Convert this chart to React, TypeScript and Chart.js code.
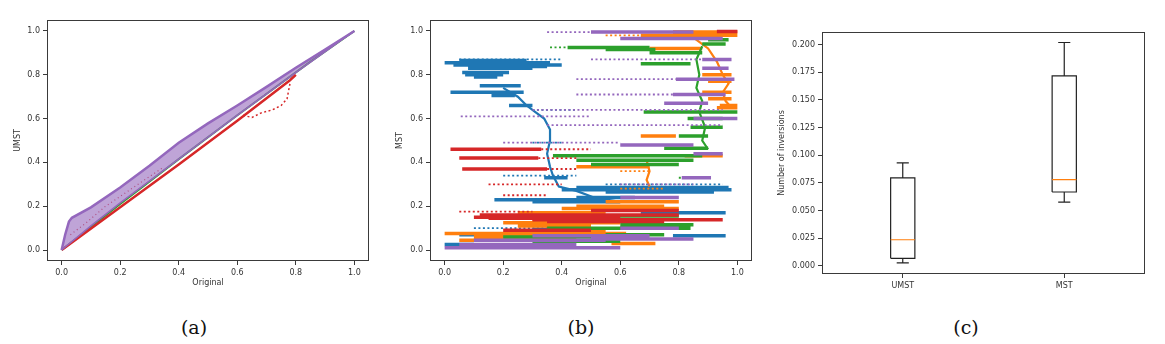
import React, { useEffect, useRef } from 'react';
import { Chart, registerables } from 'chart.js';

Chart.register(...registerables);

type XY = [number, number];
type Streak = [number, number, number]; // [xStart, xEnd, y]

// ---------- shared tick values ----------
const unitTicks = [0, 0.2, 0.4, 0.6, 0.8, 1.0];
const inversionTicks = [0, 0.025, 0.05, 0.075, 0.1, 0.125, 0.15, 0.175, 0.2];

// ---------- (a) UMST vs Original ----------
const umstPurpleUpper: XY[] = [
  [0, 0], [0.012, 0.07], [0.025, 0.13], [0.035, 0.147], [0.1, 0.195], [0.2, 0.285],
  [0.3, 0.385], [0.4, 0.49], [0.5, 0.578], [0.6, 0.66], [0.7, 0.745], [0.8, 0.832],
  [0.9, 0.915], [1, 1],
];
const umstPurpleLower: XY[] = [
  [0, 0], [0.1, 0.11], [0.2, 0.215], [0.4, 0.415], [0.6, 0.615], [0.8, 0.81], [1, 1],
];
const umstPurpleInner: XY[] = [
  [0.04, 0.13], [0.1, 0.17], [0.2, 0.255], [0.3, 0.355], [0.4, 0.455], [0.5, 0.545],
  [0.6, 0.635], [0.7, 0.72],
];
const umstGreen: XY[] = [
  [0, 0], [0.2, 0.21], [0.4, 0.415], [0.6, 0.615], [0.85, 0.86], [1, 1],
];
const umstRed: XY[] = [
  [0, 0], [0.2, 0.195], [0.4, 0.39], [0.6, 0.59], [0.78, 0.775], [0.8, 0.8],
];
const umstRedDip: XY[] = [
  [0.62, 0.615], [0.65, 0.605], [0.68, 0.625], [0.72, 0.64], [0.75, 0.66], [0.77, 0.69], [0.78, 0.76],
];
const umstRedScatter: XY[] = [
  [0.03, 0.07], [0.08, 0.12], [0.15, 0.2], [0.25, 0.29], [0.35, 0.38],
];

// ---------- (b) MST vs Original ----------
const mstBlueDense: Streak[] = [
  [0.0, 0.36, 0.855], [0.03, 0.4, 0.845], [0.1, 0.35, 0.838], [0.08, 0.3, 0.83],
  [0.05, 0.28, 0.865], [0.06, 0.22, 0.81], [0.07, 0.2, 0.8], [0.1, 0.18, 0.79],
  [0.12, 0.26, 0.75], [0.02, 0.27, 0.72], [0.16, 0.24, 0.705], [0.22, 0.3, 0.66],
  [0.4, 0.98, 0.275], [0.45, 0.97, 0.285], [0.55, 0.92, 0.265], [0.17, 0.55, 0.23],
  [0.3, 0.6, 0.22], [0.45, 0.65, 0.24], [0.67, 0.96, 0.17], [0.05, 0.25, 0.07],
  [0.78, 0.96, 0.065], [0.0, 0.1, 0.025], [0.3, 0.45, 0.095], [0.34, 0.42, 0.33],
];
const mstBlueSparse: Streak[] = [
  [0.05, 0.4, 0.87], [0.3, 0.45, 0.64], [0.2, 0.45, 0.34], [0.55, 0.95, 0.3],
  [0.1, 0.35, 0.1], [0.3, 0.4, 0.49],
];
const mstBluePath: XY[] = [
  [0.2, 0.74], [0.25, 0.7], [0.28, 0.66], [0.31, 0.63], [0.34, 0.6], [0.36, 0.55],
  [0.36, 0.5], [0.35, 0.44], [0.36, 0.38], [0.37, 0.34], [0.39, 0.29], [0.45, 0.27],
  [0.51, 0.24], [0.6, 0.22],
];

const mstOrangeDense: Streak[] = [
  [0.67, 1.0, 0.98], [0.78, 1.0, 0.995], [0.7, 0.88, 0.92], [0.88, 0.98, 0.8],
  [0.9, 0.98, 0.77], [0.88, 0.98, 0.72], [0.9, 0.98, 0.69], [0.94, 1.0, 0.66],
  [0.93, 1.0, 0.65], [0.67, 0.79, 0.52], [0.82, 0.95, 0.43], [0.45, 0.7, 0.38],
  [0.55, 0.8, 0.22], [0.45, 0.75, 0.2], [0.4, 0.8, 0.19], [0.25, 0.55, 0.17],
  [0.2, 0.6, 0.125], [0.3, 0.65, 0.135], [0.25, 0.5, 0.11], [0.0, 0.62, 0.075],
  [0.3, 0.55, 0.085], [0.1, 0.45, 0.06], [0.05, 0.2, 0.045], [0.57, 0.72, 0.03],
];
const mstOrangeSparse: Streak[] = [
  [0.55, 0.67, 0.98], [0.6, 0.7, 0.36], [0.6, 0.75, 0.28],
];
const mstOrangePath: XY[] = [
  [0.85, 0.97], [0.9, 0.92], [0.93, 0.86], [0.95, 0.8], [0.97, 0.76], [0.95, 0.72],
  [0.96, 0.68], [0.98, 0.65],
];
const mstOrangeDrop: XY[] = [
  [0.69, 0.41], [0.7, 0.36], [0.69, 0.32], [0.7, 0.29],
];

const mstGreenDense: Streak[] = [
  [0.42, 0.7, 0.925], [0.55, 0.72, 0.915], [0.7, 0.88, 0.9], [0.88, 0.96, 0.94],
  [0.9, 0.97, 0.96], [0.67, 0.84, 0.85], [0.68, 1.0, 0.63], [0.83, 0.95, 0.6],
  [0.84, 0.95, 0.56], [0.8, 0.9, 0.52], [0.75, 0.9, 0.465], [0.37, 0.88, 0.43],
  [0.45, 0.85, 0.41], [0.5, 0.8, 0.39], [0.5, 0.8, 0.155], [0.6, 0.85, 0.115],
  [0.35, 0.84, 0.1], [0.55, 0.75, 0.07], [0.2, 0.55, 0.06], [0.3, 0.6, 0.04],
  [0.05, 0.3, 0.015],
];
const mstGreenSparse: Streak[] = [
  [0.36, 0.42, 0.925], [0.8, 0.9, 0.33],
];
const mstGreenPath: XY[] = [
  [0.88, 0.93], [0.86, 0.87], [0.87, 0.8], [0.86, 0.74], [0.88, 0.68], [0.87, 0.63],
  [0.89, 0.56], [0.88, 0.5], [0.9, 0.46],
];

const mstRedDense: Streak[] = [
  [0.02, 0.33, 0.46], [0.05, 0.32, 0.42], [0.06, 0.35, 0.37], [0.12, 0.8, 0.16],
  [0.15, 0.6, 0.145], [0.1, 0.5, 0.15], [0.3, 0.95, 0.138], [0.35, 0.75, 0.13],
  [0.5, 0.8, 0.18], [0.2, 0.5, 0.09], [0.93, 1.0, 0.998],
];
const mstRedSparse: Streak[] = [
  [0.33, 0.5, 0.46], [0.32, 0.45, 0.42], [0.35, 0.45, 0.37], [0.15, 0.4, 0.3],
  [0.2, 0.35, 0.25], [0.05, 0.3, 0.175],
];

const mstPurpleDense: Streak[] = [
  [0.5, 0.85, 0.995], [0.6, 0.95, 0.965], [0.88, 0.98, 0.87], [0.88, 0.97, 0.83],
  [0.79, 0.99, 0.78], [0.78, 0.96, 0.71], [0.75, 0.9, 0.67], [0.85, 1.0, 0.6],
  [0.6, 0.85, 0.48], [0.85, 0.95, 0.44], [0.6, 0.8, 0.24], [0.6, 0.8, 0.1],
  [0.5, 0.85, 0.05], [0.3, 0.7, 0.065], [0.1, 0.55, 0.045], [0.05, 0.45, 0.025],
  [0.0, 0.6, 0.01], [0.81, 0.91, 0.33],
];
const mstPurpleSparse: Streak[] = [
  [0.35, 0.5, 0.995], [0.5, 0.88, 0.87], [0.45, 0.79, 0.78], [0.45, 0.78, 0.71],
  [0.3, 0.95, 0.64], [0.055, 0.5, 0.61], [0.35, 0.95, 0.57], [0.2, 0.6, 0.49],
  [0.6, 0.85, 0.3],
];

// ---------- (c) Number of inversions ----------
const boxCategories = ['UMST', 'MST'];
const whiskerLow = [0.0025, 0.0575];
const quartile1 = [0.0067, 0.0667];
const medians = [0.0235, 0.0779];
const quartile3 = [0.0795, 0.1718];
const whiskerHigh = [0.093, 0.202];

// ---------- styling ----------
const COLORS = {
  blue: '#1f77b4',
  orange: '#ff7f0e',
  green: '#2ca02c',
  red: '#d62728',
  purple: '#9467bd',
};
const AXIS_COLOR = '#3a3a3a';
const FONT = { family: "'DejaVu Sans', sans-serif", size: 8 };
const BOX_HALF = 0.075;
const CAP_HALF = 0.0375;

const xy = (pts: XY[]) => pts.map(([x, y]) => ({ x, y }));
const streaks = (s: Streak[]) =>
  s.flatMap(([x1, x2, y]) => [{ x: x1, y }, { x: x2, y }, { x: x2, y: NaN }]);

const framePlugin = {
  id: 'frame',
  afterDraw(chart: any) {
    const { ctx, chartArea } = chart;
    const { left, top, right, bottom } = chartArea;
    ctx.save();
    ctx.strokeStyle = AXIS_COLOR;
    ctx.lineWidth = 1;
    ctx.strokeRect(Math.round(left) + 0.5, Math.round(top) + 0.5, Math.round(right - left) - 1, Math.round(bottom - top) - 1);
    ctx.restore();
  },
};

function makeAxis(opts: {
  horizontal: boolean;
  min: number;
  max: number;
  ticks: number[];
  format: (v: number) => string;
  size: number;
  title?: string;
  titlePad?: number;
}) {
  return {
    type: 'linear',
    min: opts.min,
    max: opts.max,
    afterBuildTicks: (scale: any) => {
      scale.ticks = opts.ticks.map((value) => ({ value }));
    },
    afterFit: (scale: any) => {
      if (opts.horizontal) scale.height = opts.size;
      else scale.width = opts.size;
    },
    grid: {
      display: true,
      drawOnChartArea: false,
      drawTicks: true,
      tickLength: 4,
      color: AXIS_COLOR,
      lineWidth: 1,
    },
    border: { display: false },
    ticks: {
      font: FONT,
      color: '#333',
      padding: 3,
      autoSkip: false,
      maxRotation: 0,
      callback: (v: number) => opts.format(v),
    },
    title: {
      display: !!opts.title,
      text: opts.title || '',
      font: FONT,
      color: '#333',
      padding: { top: opts.titlePad ?? 0, bottom: opts.titlePad ?? 0 },
    },
  };
}

function baseOptions(padding: any, scales: any) {
  return {
    animation: false,
    responsive: false,
    events: [],
    layout: { padding },
    elements: { point: { radius: 0 }, line: { tension: 0 } },
    plugins: { legend: { display: false }, tooltip: { enabled: false } },
    scales,
  };
}

function umstConfig() {
  return {
    type: 'line',
    data: {
      datasets: [
        {
          data: xy(umstPurpleUpper),
          borderColor: COLORS.purple,
          borderWidth: 2.5,
          backgroundColor: 'rgba(148,103,189,0.6)',
          fill: '+1',
          order: 0,
        },
        { data: xy(umstPurpleLower), borderColor: COLORS.purple, borderWidth: 1.5, fill: false, order: 0 },
        { data: xy(umstPurpleInner), borderColor: 'rgba(255,255,255,0.8)', borderWidth: 1, borderDash: [2, 4], fill: false, order: 0 },
        { data: xy(umstRed), borderColor: COLORS.red, borderWidth: 2.5, fill: false, order: 1 },
        { data: xy(umstRedDip), borderColor: COLORS.red, borderWidth: 1.5, borderDash: [2, 2.5], fill: false, order: 1 },
        { data: xy(umstRedScatter), borderColor: COLORS.red, borderWidth: 1.2, borderDash: [1, 3], fill: false, order: 1 },
        { data: xy(umstGreen), borderColor: COLORS.green, borderWidth: 2, fill: false, order: 2 },
      ],
    },
    options: baseOptions(
      { top: 20, right: 16, left: 0, bottom: 0 },
      {
        x: makeAxis({ horizontal: true, min: -0.05, max: 1.05, ticks: unitTicks, format: (v) => v.toFixed(1), size: 39, title: 'Original', titlePad: 12 }),
        y: makeAxis({ horizontal: false, min: -0.05, max: 1.05, ticks: unitTicks, format: (v) => v.toFixed(1), size: 47, title: 'UMST', titlePad: 13 }),
      }
    ),
    plugins: [framePlugin],
  };
}

function seriesSets(color: string, order: number, dense: Streak[], sparse: Streak[], paths: XY[][]) {
  const sets: any[] = [
    { data: streaks(dense), borderColor: color, borderWidth: 3.5, fill: false, order },
    { data: streaks(sparse), borderColor: color, borderWidth: 1.8, borderDash: [2, 2.5], fill: false, order },
  ];
  paths.forEach((p) => sets.push({ data: xy(p), borderColor: color, borderWidth: 2.2, fill: false, order }));
  return sets;
}

function mstConfig() {
  return {
    type: 'line',
    data: {
      datasets: [
        ...seriesSets(COLORS.purple, 0, mstPurpleDense, mstPurpleSparse, []),
        ...seriesSets(COLORS.red, 1, mstRedDense, mstRedSparse, []),
        ...seriesSets(COLORS.green, 2, mstGreenDense, mstGreenSparse, [mstGreenPath]),
        ...seriesSets(COLORS.orange, 3, mstOrangeDense, mstOrangeSparse, [mstOrangePath, mstOrangeDrop]),
        ...seriesSets(COLORS.blue, 4, mstBlueDense, mstBlueSparse, [mstBluePath]),
      ],
    },
    options: baseOptions(
      { top: 20, right: 18, left: 0, bottom: 0 },
      {
        x: makeAxis({ horizontal: true, min: -0.05, max: 1.05, ticks: unitTicks, format: (v) => v.toFixed(1), size: 39, title: 'Original', titlePad: 12 }),
        y: makeAxis({ horizontal: false, min: -0.05, max: 1.05, ticks: unitTicks, format: (v) => v.toFixed(1), size: 45, title: 'MST', titlePad: 10 }),
      }
    ),
    plugins: [framePlugin],
  };
}

function boxConfig() {
  const gap = (x: number) => ({ x, y: NaN });
  const frame = boxCategories.flatMap((_, i) => {
    const c = i + 1;
    return [
      { x: c - BOX_HALF, y: quartile1[i] }, { x: c + BOX_HALF, y: quartile1[i] },
      { x: c + BOX_HALF, y: quartile3[i] }, { x: c - BOX_HALF, y: quartile3[i] },
      { x: c - BOX_HALF, y: quartile1[i] }, gap(c),
      { x: c, y: quartile3[i] }, { x: c, y: whiskerHigh[i] }, gap(c),
      { x: c - CAP_HALF, y: whiskerHigh[i] }, { x: c + CAP_HALF, y: whiskerHigh[i] }, gap(c),
      { x: c, y: quartile1[i] }, { x: c, y: whiskerLow[i] }, gap(c),
      { x: c - CAP_HALF, y: whiskerLow[i] }, { x: c + CAP_HALF, y: whiskerLow[i] }, gap(c),
    ];
  });
  const medianLines = boxCategories.flatMap((_, i) => {
    const c = i + 1;
    return [{ x: c - BOX_HALF, y: medians[i] }, { x: c + BOX_HALF, y: medians[i] }, gap(c)];
  });
  return {
    type: 'line',
    data: {
      datasets: [
        { data: medianLines, borderColor: COLORS.orange, borderWidth: 1.2, fill: false, order: 0 },
        { data: frame, borderColor: '#222', borderWidth: 1.2, fill: false, order: 1 },
      ],
    },
    options: baseOptions(
      { top: 32, right: 20, left: 0, bottom: 0 },
      {
        x: makeAxis({
          horizontal: true, min: 0.5, max: 2.5, ticks: [1, 2],
          format: (v) => boxCategories[Math.round(v) - 1] ?? '', size: 26,
        }),
        y: makeAxis({
          horizontal: false, min: -0.0075, max: 0.2115, ticks: inversionTicks,
          format: (v) => v.toFixed(3), size: 52, title: 'Number of inversions', titlePad: 7,
        }),
      }
    ),
    plugins: [framePlugin],
  };
}

function ChartCanvas({ left, width, height, make }: { left: number; width: number; height: number; make: () => any }) {
  const ref = useRef<HTMLCanvasElement>(null);
  useEffect(() => {
    const chart = new Chart(ref.current as HTMLCanvasElement, make());
    return () => chart.destroy();
  }, []);
  return (
    <canvas
      ref={ref}
      width={width}
      height={height}
      style={{ position: 'absolute', left, top: 0, width, height }}
    />
  );
}

const captionStyle = (center: number): React.CSSProperties => ({
  position: 'absolute',
  left: center - 30,
  width: 60,
  top: 314,
  textAlign: 'center',
  fontFamily: "'DejaVu Serif', 'Liberation Serif', serif",
  fontSize: 19,
  lineHeight: '26px',
  color: '#111',
});

export default function App() {
  return (
    <div style={{ position: 'absolute', left: 0, top: 0, width: 1165, height: 344, background: '#fff', overflow: 'hidden' }}>
      <ChartCanvas left={0} width={385} height={300} make={umstConfig} />
      <ChartCanvas left={385} width={385} height={300} make={mstConfig} />
      <ChartCanvas left={770} width={395} height={300} make={boxConfig} />
      <div style={captionStyle(194)}>(a)</div>
      <div style={captionStyle(581)}>(b)</div>
      <div style={captionStyle(966)}>(c)</div>
    </div>
  );
}
